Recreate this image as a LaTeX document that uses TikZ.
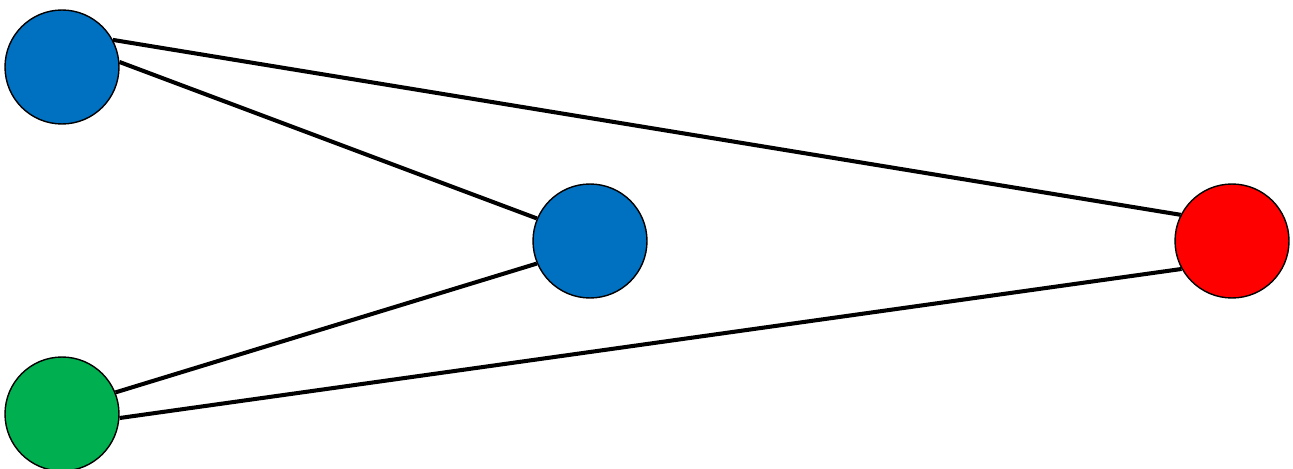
\documentclass[tikz,border=0pt]{standalone}
\usepackage{tikz}
\usetikzlibrary{positioning}
\definecolor{vertexBlue}{RGB}{0, 112, 192}
\definecolor{vertexGreen}{RGB}{0, 176, 80}
\definecolor{vertexRed}{RGB}{255, 0, 0}

\begin{document}
\begin{tikzpicture}[
    x=0.02cm, y=-0.02cm,
    vertex/.style={
        circle, draw=black, line width=0.8pt, minimum size=2.28cm, inner sep=0pt
    },
    edge/.style={line width=2.3pt, draw=black}
]
\useasboundingbox (0,0) rectangle (1293,469);

% --- Vertices -------------------------------------------------------------
\node[vertex, fill=vertexBlue]  (topleft) at (62,67)   {};
\node[vertex, fill=vertexBlue]  (middle)  at (590,241) {};
\node[vertex, fill=vertexRed]   (right)   at (1232,241) {};
\node[vertex, fill=vertexGreen] (botleft) at (62,414)  {};

% --- Edges ----------------------------------------------------------------
\draw[edge] (topleft.28)  -- (right.153);
\draw[edge] (topleft.5)   -- (middle.157);
\draw[edge] (middle.203)  -- (botleft.22);
\draw[edge] (botleft.356) -- (right.209);

\end{tikzpicture}
\end{document}
